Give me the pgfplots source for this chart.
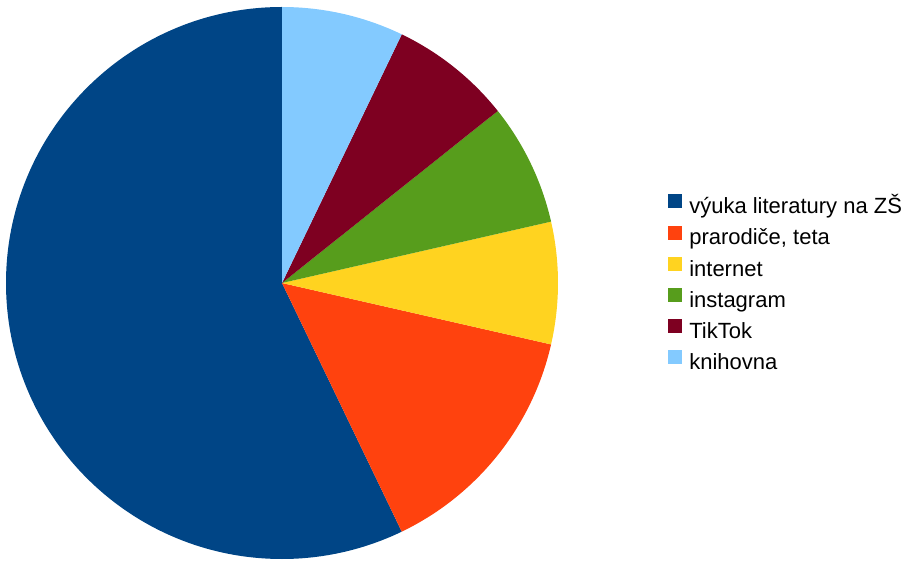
\documentclass[border=0pt]{standalone}
\usepackage{pgfplots}
\pgfplotsset{compat=1.18}
\usepackage{fontspec}
\setmainfont{Liberation Sans}
\definecolor{c1}{HTML}{004586}
\definecolor{c2}{HTML}{FF420E}
\definecolor{c3}{HTML}{FFD320}
\definecolor{c4}{HTML}{579D1C}
\definecolor{c5}{HTML}{7E0021}
\definecolor{c6}{HTML}{83CAFF}
% values of the slices
\def\vA{8}\def\vB{2}\def\vC{1}\def\vD{1}\def\vE{1}\def\vF{1}
\pgfmathsetmacro\total{\vA+\vB+\vC+\vD+\vE+\vF}
\pgfmathsetmacro\aA{90}
\pgfmathsetmacro\aB{\aA+\vA/\total*360}
\pgfmathsetmacro\aC{\aB+\vB/\total*360}
\pgfmathsetmacro\aD{\aC+\vC/\total*360}
\pgfmathsetmacro\aE{\aD+\vD/\total*360}
\pgfmathsetmacro\aF{\aE+\vE/\total*360}
\pgfmathsetmacro\aG{\aF+\vF/\total*360}
\def\R{207pt}
\begin{document}
\begin{tikzpicture}
\begin{axis}[
  x=0.75pt, y=0.75pt,
  xmin=-282, xmax=629, ymin=-278, ymax=283,
  hide axis,
  legend image code/.code={\fill[#1, draw=none] (0pt,0pt) rectangle (10.5pt,10.5pt);},
  legend cell align=left,
  legend style={at={(axis cs:386,88.8)}, anchor=north west, draw=none, fill=none,
    inner sep=0pt, font=\fontsize{16.5}{19}\selectfont, row sep=5.4pt,
    nodes={inner sep=0pt, text height=11.5pt, text depth=3.5pt},
    /tikz/every odd column/.append style={column sep=5.25pt}},
]
\path (axis cs:-282,-278) rectangle (axis cs:629,283);
\fill[c1] (axis cs:0,0) -- ++(\aA:\R) arc[start angle=\aA, end angle=\aB, radius=\R] -- cycle;
\fill[c2] (axis cs:0,0) -- ++(\aB:\R) arc[start angle=\aB, end angle=\aC, radius=\R] -- cycle;
\fill[c3] (axis cs:0,0) -- ++(\aC:\R) arc[start angle=\aC, end angle=\aD, radius=\R] -- cycle;
\fill[c4] (axis cs:0,0) -- ++(\aD:\R) arc[start angle=\aD, end angle=\aE, radius=\R] -- cycle;
\fill[c5] (axis cs:0,0) -- ++(\aE:\R) arc[start angle=\aE, end angle=\aF, radius=\R] -- cycle;
\fill[c6] (axis cs:0,0) -- ++(\aF:\R) arc[start angle=\aF, end angle=\aG, radius=\R] -- cycle;
\addlegendimage{fill=c1}\addlegendentry{výuka literatury na ZŠ}
\addlegendimage{fill=c2}\addlegendentry{prarodiče, teta}
\addlegendimage{fill=c3}\addlegendentry{internet}
\addlegendimage{fill=c4}\addlegendentry{instagram}
\addlegendimage{fill=c5}\addlegendentry{TikTok}
\addlegendimage{fill=c6}\addlegendentry{knihovna}
\end{axis}
\end{tikzpicture}
\end{document}
